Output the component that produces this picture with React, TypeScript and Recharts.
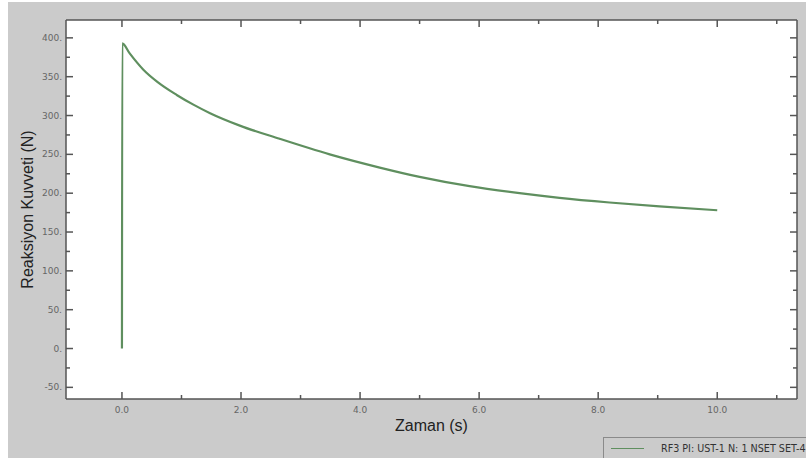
import React from "react";
import { LineChart, Line, XAxis, YAxis } from "recharts";

// force readings (N) against time (s)
const times = [0, 0.005, 0.13, 0.36, 0.6, 0.92, 1.2, 1.48, 1.98, 2.65, 3.49, 4.33, 5.0, 5.84, 6.68, 7.35, 8.19, 9.03, 10.0];
const forces = [0, 393, 380, 359, 343, 326.5, 314, 303, 287, 270, 250, 233, 221, 209, 200, 194, 188, 183, 178];

const xTicks = [0, 1, 2, 3, 4, 5, 6, 7, 8, 9, 10, 11];
const yTicks = [-50, -25, 0, 25, 50, 75, 100, 125, 150, 175, 200, 225, 250, 275, 300, 325, 350, 375, 400];

const seriesName = "RF3 PI: UST-1 N: 1 NSET SET-4";

const data = times.map((t, i) => ({ t, f: forces[i] }));

const AXIS = "#555";
const LINE = "#5f8f5f";
const tickFont = { fontFamily: "DejaVu Sans", fontSize: 9, fill: "#666" };

const BottomTick = ({ x, y, payload }: any) => {
  const major = payload.value % 2 === 0;
  return (
    <g>
      <line x1={x} x2={x} y1={y} y2={y - (major ? 7 : 4)} stroke={AXIS} strokeWidth={1.5} />
      {major && (
        <text x={x} y={y + 14} textAnchor="middle" {...tickFont}>
          {payload.value.toFixed(1)}
        </text>
      )}
    </g>
  );
};

const TopTick = ({ x, y, payload }: any) => {
  const major = payload.value % 2 === 0;
  return <line x1={x} x2={x} y1={y} y2={y + (major ? 7 : 4)} stroke={AXIS} strokeWidth={1.5} />;
};

const LeftTick = ({ x, y, payload }: any) => {
  const major = payload.value % 50 === 0;
  return (
    <g>
      <line x1={x} x2={x + (major ? 7 : 4)} y1={y} y2={y} stroke={AXIS} strokeWidth={1.5} />
      {major && (
        <text x={x - 4} y={y + 3} textAnchor="end" {...tickFont}>
          {payload.value + "."}
        </text>
      )}
    </g>
  );
};

const RightTick = ({ x, y, payload }: any) => {
  const major = payload.value % 50 === 0;
  return <line x1={x} x2={x - (major ? 7 : 4)} y1={y} y2={y} stroke={AXIS} strokeWidth={1.5} />;
};

export default function App() {
  return (
    <div
      style={{
        position: "absolute",
        left: 8,
        top: 2,
        width: 798,
        height: 456,
        background: "#cbcbcb",
        overflow: "hidden",
      }}
    >
      <LineChart width={798} height={456} data={data} margin={{ top: 17, right: 8, bottom: 11, left: 0 }}>
        <rect x={58} y={18} width={731} height={379} fill="#fff" />
        <XAxis
          dataKey="t"
          type="number"
          domain={[-0.94, 11.34]}
          allowDataOverflow
          ticks={xTicks}
          interval={0}
          tick={<BottomTick />}
          tickLine={false}
          tickSize={0}
          tickMargin={0}
          axisLine={{ stroke: AXIS, strokeWidth: 1.5 }}
          height={48}
          label={{ value: "Zaman (s)", position: "center", dy: 2, fontFamily: "Liberation Sans", fontSize: 16, fill: "#222" }}
        />
        <XAxis
          xAxisId="top"
          orientation="top"
          dataKey="t"
          type="number"
          domain={[-0.94, 11.34]}
          allowDataOverflow
          ticks={xTicks}
          interval={0}
          tick={<TopTick />}
          tickLine={false}
          tickSize={0}
          tickMargin={0}
          axisLine={{ stroke: AXIS, strokeWidth: 1.5 }}
          height={1}
        />
        <YAxis
          type="number"
          domain={[-65, 423]}
          allowDataOverflow
          ticks={yTicks}
          interval={0}
          tick={<LeftTick />}
          tickLine={false}
          tickSize={0}
          tickMargin={0}
          axisLine={{ stroke: AXIS, strokeWidth: 1.5 }}
          width={58}
          label={{
            value: "Reaksiyon Kuvveti (N)",
            position: "center",
            angle: -90,
            dx: -10,
            fontFamily: "Liberation Sans",
            fontSize: 16,
            fill: "#222",
          }}
        />
        <YAxis
          yAxisId="right"
          orientation="right"
          type="number"
          domain={[-65, 423]}
          allowDataOverflow
          ticks={yTicks}
          interval={0}
          tick={<RightTick />}
          tickLine={false}
          tickSize={0}
          tickMargin={0}
          axisLine={{ stroke: AXIS, strokeWidth: 1.5 }}
          width={1}
        />
        <Line
          type="monotone"
          dataKey="f"
          name={seriesName}
          stroke={LINE}
          strokeWidth={2.2}
          dot={false}
          isAnimationActive={false}
        />
      </LineChart>
      <div
        style={{
          position: "absolute",
          left: 595,
          top: 435,
          width: 240,
          height: 20,
          border: "1px solid #8a8a8a",
          background: "#cbcbcb",
          display: "flex",
          alignItems: "center",
          fontFamily: "DejaVu Sans",
          fontSize: 9.6,
          color: "#333",
          whiteSpace: "nowrap",
        }}
      >
        <div style={{ width: 33, height: 0, borderTop: `1.5px solid ${LINE}`, marginLeft: 7, marginRight: 17 }} />
        <span>{seriesName}</span>
      </div>
    </div>
  );
}
